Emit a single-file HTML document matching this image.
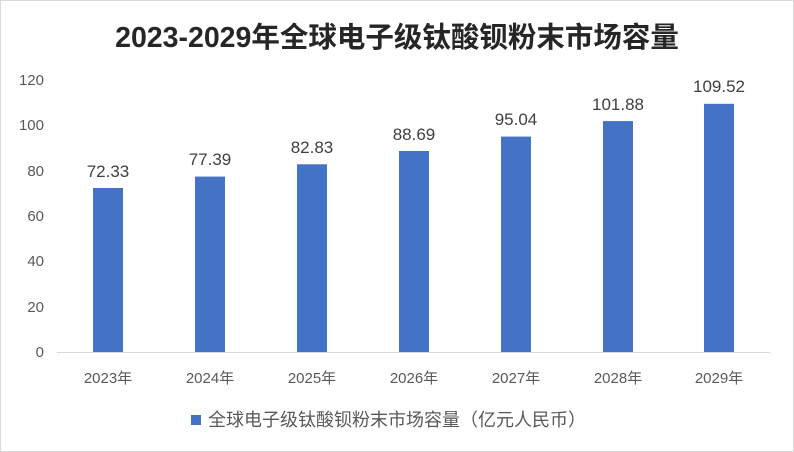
<!DOCTYPE html>
<html><head><meta charset="utf-8"><style>
body{margin:0;background:#fff}
svg{display:block}
text{font-family:"Liberation Sans","Noto Sans CJK SC",sans-serif}
</style></head><body>
<svg width="794" height="452" viewBox="0 0 794 452" xmlns="http://www.w3.org/2000/svg">
<rect x="0.5" y="0.5" width="793" height="451" fill="#fff" stroke="#d9d9d9"/>
<text x="397" y="47" text-anchor="middle" font-size="28.5" font-weight="bold" fill="#262626">2023-2029年全球电子级钛酸钡粉末市场容量</text>
<g font-size="15" fill="#595959" text-anchor="end">
<text x="44" y="357">0</text><text x="44" y="312">20</text><text x="44" y="266">40</text>
<text x="44" y="221">60</text><text x="44" y="176">80</text><text x="44" y="130">100</text><text x="44" y="85">120</text>
</g>
<line x1="57" y1="352.5" x2="770" y2="352.5" stroke="#d9d9d9"/>
<g fill="#4472c4">
<rect x="93" y="188" width="30" height="164"/>
<rect x="195" y="176.6" width="30" height="175.4"/>
<rect x="297" y="164.3" width="30" height="187.7"/>
<rect x="399" y="151" width="30" height="201"/>
<rect x="501" y="136.6" width="30" height="215.4"/>
<rect x="603" y="121.1" width="30" height="230.9"/>
<rect x="704" y="103.8" width="30" height="248.2"/>
</g>
<g font-size="17" fill="#404040" text-anchor="middle">
<text x="108" y="177">72.33</text><text x="210" y="165">77.39</text><text x="312" y="153">82.83</text>
<text x="414" y="140">88.69</text><text x="516" y="125">95.04</text><text x="618" y="110">101.88</text>
<text x="719" y="92">109.52</text>
</g>
<g font-size="15" fill="#595959" text-anchor="middle">
<text x="108" y="383">2023年</text><text x="210" y="383">2024年</text><text x="312" y="383">2025年</text>
<text x="414" y="383">2026年</text><text x="516" y="383">2027年</text><text x="618" y="383">2028年</text>
<text x="719" y="383">2029年</text>
</g>
<rect x="191" y="415" width="10" height="10" fill="#4472c4"/>
<text x="208" y="426" font-size="18" fill="#595959">全球电子级钛酸钡粉末市场容量（亿元人民币）</text>
</svg>
</body></html>
